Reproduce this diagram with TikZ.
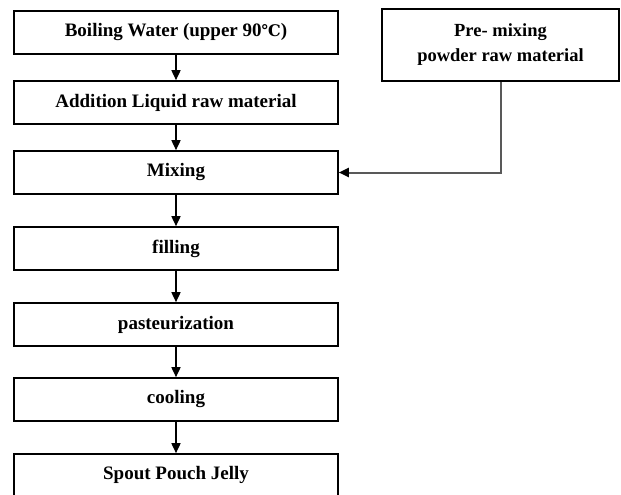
\documentclass[tikz,border=0pt]{standalone}
\usepackage{fontspec}
\setmainfont{Liberation Serif}
\newfontfamily\symfont{DejaVu Serif}
\usetikzlibrary{arrows.meta}
\tikzset{
  stepbox/.style={draw=black, line width=1.6pt, minimum width=324pt, minimum height=43pt, inner sep=0pt, font=\fontsize{19}{22}\selectfont\bfseries},
  sidebox/.style={draw=black, line width=1.6pt, minimum width=237pt, minimum height=72pt, inner sep=0pt, align=center, font=\fontsize{18.5}{25}\selectfont\bfseries},
  flow/.style={line width=1.6pt, -{Triangle[length=10pt,width=9pt]}},
  feed/.style={line width=2pt, draw=black!65, -{Triangle[length=10pt,width=9pt,black]}}
}
\begin{document}
\begin{tikzpicture}[x=1pt,y=-1pt]
\useasboundingbox[fill=white] (0,0) rectangle (621,495);
\node[stepbox] (b1) at (176,32.5) {Boiling Water (upper 90{\symfont\fontsize{16}{20}\selectfont ℃})};
\node[stepbox] (b2) at (176,102.5) {Addition Liquid raw material};
\node[stepbox] (b3) at (176,172.5) {Mixing};
\node[stepbox] (b4) at (176,248.5) {filling};
\node[stepbox] (b5) at (176,324.5) {pasteurization};
\node[stepbox] (b6) at (176,399.5) {cooling};
\node[stepbox, minimum height=52pt] (b7) at (176,480) {};
\node[font=\fontsize{19}{22}\selectfont\bfseries] (t7) at (176,474.5) {Spout Pouch Jelly};
\node[sidebox] (p) at (500.5,45) {Pre- mixing\\ powder raw material};
\draw[flow] (b1) -- (b2);
\draw[flow] (b2) -- (b3);
\draw[flow] (b3) -- (b4);
\draw[flow] (b4) -- (b5);
\draw[flow] (b5) -- (b6);
\draw[flow] (b6) -- (b7);
\draw[feed] (p.south) |- (b3.east);
\end{tikzpicture}
\end{document}
